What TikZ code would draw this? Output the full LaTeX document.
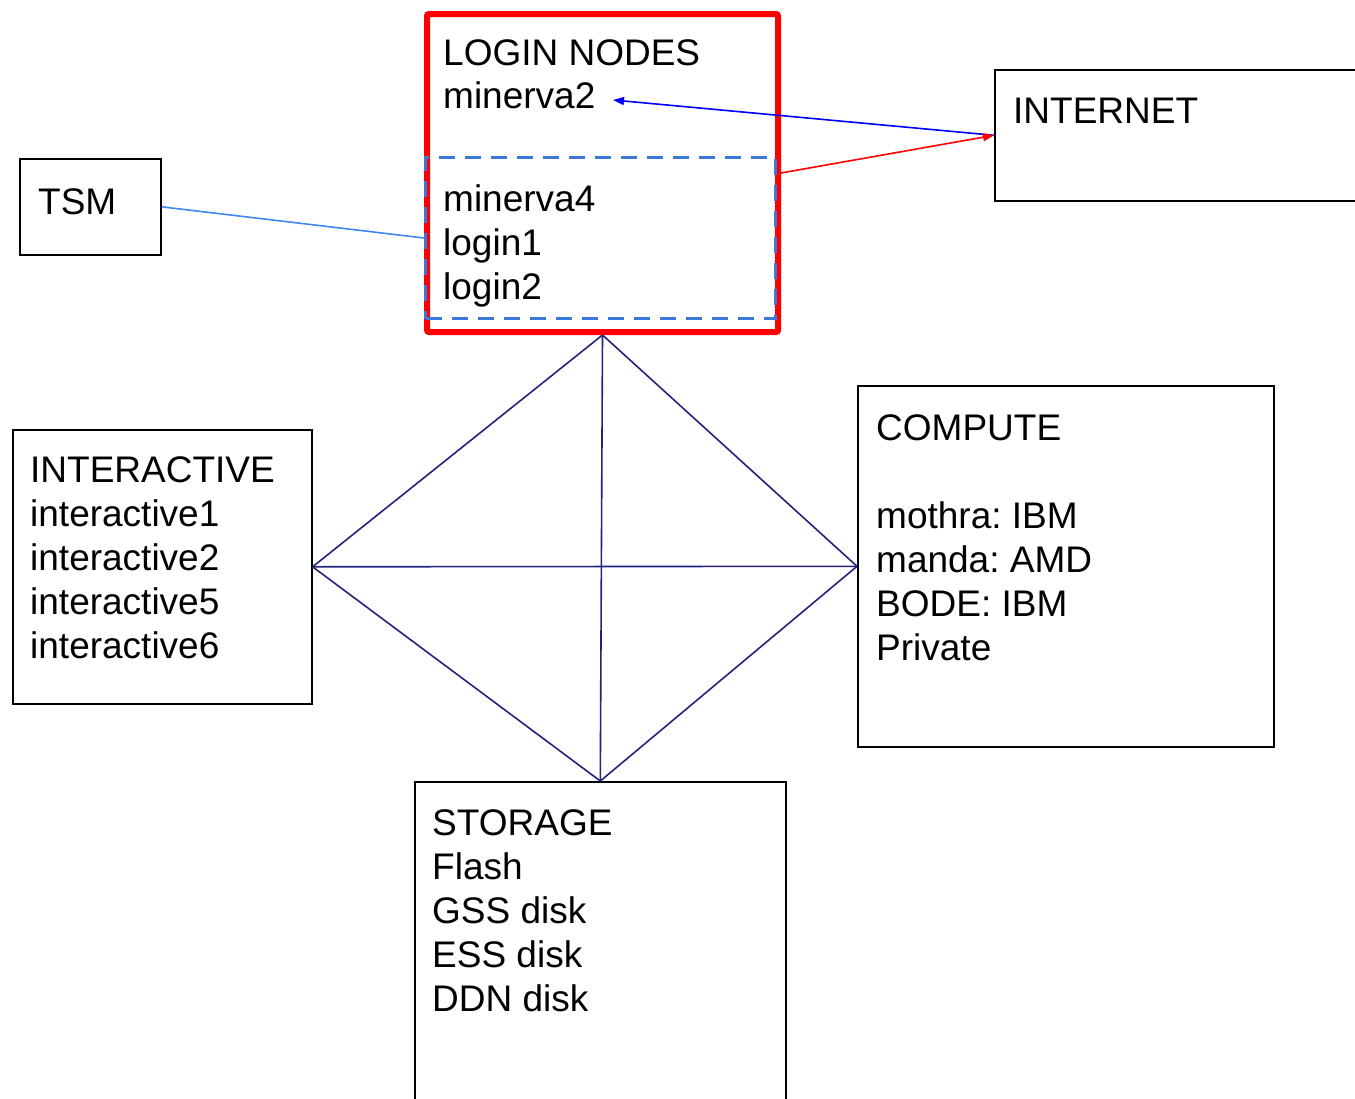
\documentclass[tikz,border=0pt]{standalone}
\usepackage{fontspec}
\setmainfont{Liberation Sans}
\usetikzlibrary{arrows.meta}
\definecolor{navyline}{RGB}{35,35,125}
\definecolor{dashblue}{RGB}{60,120,216}
\definecolor{tsmblue}{RGB}{66,133,244}
\frenchspacing
\begin{document}
\begin{tikzpicture}[x=1pt,y=-1pt,
  box/.style={draw=black,line width=1.6pt,rectangle,inner sep=0pt,anchor=north west},
  lbl/.style={anchor=base west,inner sep=0pt,align=left,font=\fontsize{37}{44}\selectfont},
  net/.style={draw=navyline,line width=1.6pt},
  tip/.style={-{Triangle[length=11pt,width=8pt]}}]
\path[use as bounding box] (0,0) rectangle (1355,1098);
\begin{scope}
\clip (0,0) rectangle (1355,1098);
% boxes
\node[box,minimum width=141pt,minimum height=96pt] (tsm) at (19,158) {};
\node[box,minimum width=380pt,minimum height=131pt] (internet) at (994,69) {};
\node[box,minimum width=299pt,minimum height=274pt] (interactive) at (12,429) {};
\node[box,minimum width=416pt,minimum height=361pt] (compute) at (857,385) {};
\node[box,minimum width=371pt,minimum height=340pt] (storage) at (414,781) {};
\node[draw=red,line width=6pt,rounded corners=2pt,inner sep=0pt,anchor=north west,minimum width=351pt,minimum height=318pt] (login) at (424,11) {};
\node[draw=dashblue,line width=3pt,dash pattern=on 16pt off 10pt,inner sep=0pt,anchor=north west,minimum width=350pt,minimum height=161pt] (inner) at (424,156) {};
% texts (anchored at the baseline of the last line)
\node[lbl] (logintxt) at (443,65) {LOGIN NODES};
\node[lbl] (minerva2) at (443,108) {minerva2};
\node[lbl] (innertxt) at (443,299) {minerva4\\login1\\login2};
\node[lbl] (tsmtxt) at (38,214) {TSM};
\node[lbl] (internettxt) at (1013,123) {INTERNET};
\node[lbl] (interactivetxt) at (30,658) {INTERACTIVE\\interactive1\\interactive2\\interactive5\\interactive6};
\node[lbl] (computetxt) at (876,660) {COMPUTE\\[44pt]mothra: IBM\\manda: AMD\\BODE: IBM\\Private};
\node[lbl] (storagetxt) at (432,1011) {STORAGE\\Flash\\GSS disk\\ESS disk\\DDN disk};
\end{scope}
% connectors
\coordinate (m2tip) at (613,100);
\draw[draw=blue,line width=1.6pt,tip,fill=blue] (internet.west) -- (m2tip);
\draw[draw=red,line width=1.6pt,tip,fill=red] (login.east) -- (internet.west);
\draw[draw=tsmblue,line width=1.6pt] (tsm.east) -- (inner.west);
\coordinate (top) at (login.south);
\draw[net] (top) -- (interactive.east);
\draw[net] (top) -- (compute.west);
\draw[net] (top) -- (storage.north);
\draw[net] (interactive.east) -- (compute.west);
\draw[net] (interactive.east) -- (storage.north);
\draw[net] (compute.west) -- (storage.north);
\end{tikzpicture}
\end{document}
